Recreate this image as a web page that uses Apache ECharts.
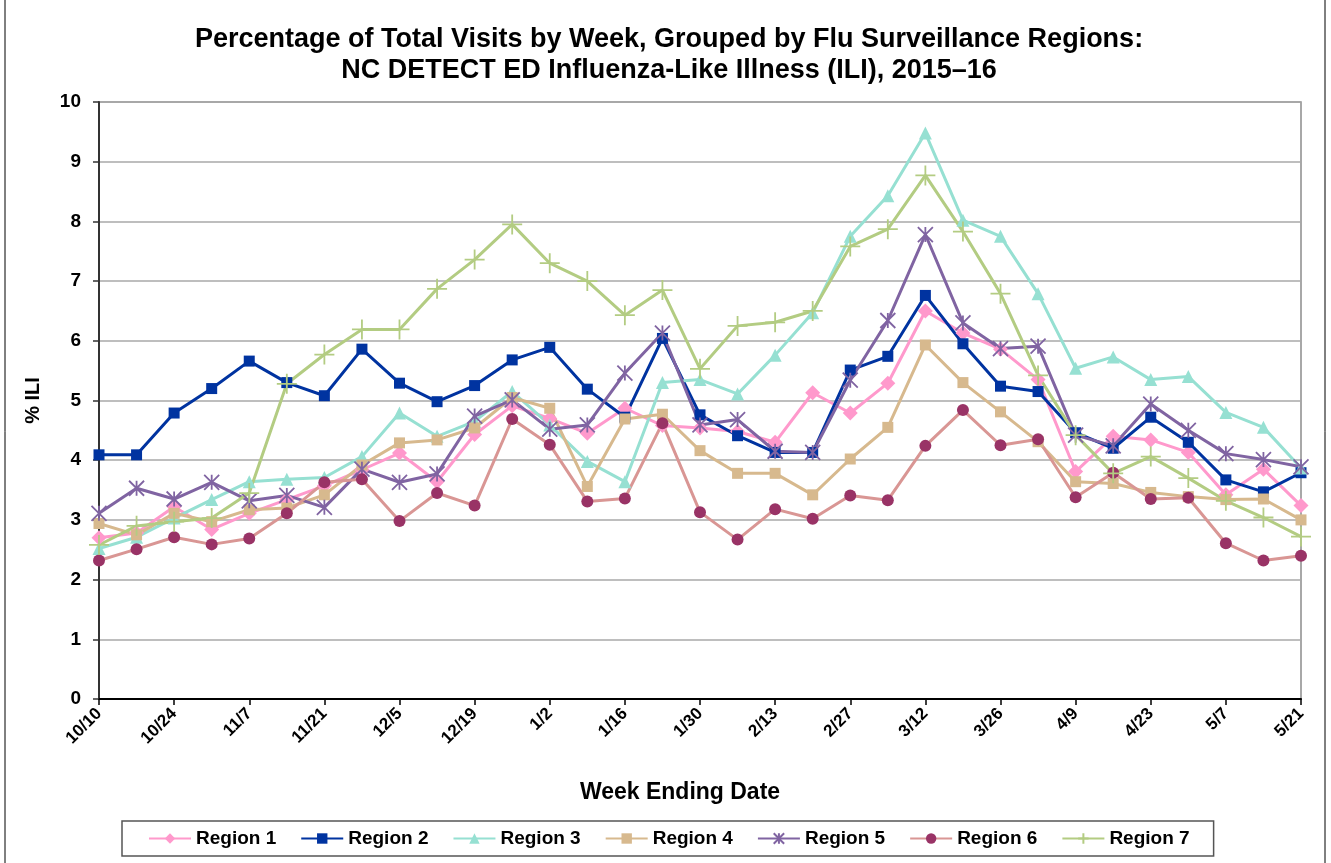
<!DOCTYPE html>
<html>
<head>
<meta charset="utf-8">
<script src="https://cdn.jsdelivr.net/npm/echarts@6/dist/echarts.min.js"></script>
<style>
  html, body { margin: 0; padding: 0; background: #fff; }
  #chart { width: 1331px; height: 863px; }
</style>
</head>
<body>
<div id="chart"></div>
<script>
// week ending dates (every week, labels shown every other week)
const weeks = ['10/10', '10/17', '10/24', '10/31', '11/7', '11/14', '11/21', '11/28', '12/5', '12/12',
  '12/19', '12/26', '1/2', '1/9', '1/16', '1/23', '1/30', '2/6', '2/13', '2/20', '2/27', '3/5',
  '3/12', '3/19', '3/26', '4/2', '4/9', '4/16', '4/23', '4/30', '5/7', '5/14', '5/21']

const region1 = [2.70, 2.78, 3.22, 2.84, 3.11, 3.34, 3.57, 3.84, 4.12, 3.64, 4.43, 4.91, 4.70, 4.45, 4.87, 4.58, 4.54,
  4.48, 4.30, 5.13, 4.79, 5.29, 6.50, 6.13, 5.86, 5.35, 3.81, 4.40, 4.34, 4.13, 3.42, 3.85, 3.24]
const region2 = [4.09, 4.09, 4.79, 5.20, 5.66, 5.30, 5.08, 5.86, 5.29, 4.98, 5.25, 5.68, 5.89, 5.19, 4.72, 6.04, 4.76,
  4.41, 4.13, 4.13, 5.51, 5.74, 6.76, 5.95, 5.24, 5.15, 4.46, 4.20, 4.72, 4.30, 3.67, 3.47, 3.79]
const region3 = [2.52, 2.71, 3.03, 3.34, 3.64, 3.68, 3.71, 4.06, 4.79, 4.40, 4.65, 5.15, 4.59, 3.98, 3.64, 5.30, 5.35,
  5.11, 5.76, 6.47, 7.75, 8.43, 9.48, 8.02, 7.75, 6.79, 5.54, 5.73, 5.35, 5.40, 4.80, 4.55, 3.87]
const region4 = [2.94, 2.75, 3.11, 2.97, 3.17, 3.20, 3.42, 3.92, 4.29, 4.34, 4.54, 5.05, 4.87, 3.56, 4.69, 4.77, 4.16,
  3.78, 3.78, 3.42, 4.02, 4.55, 5.93, 5.30, 4.81, 4.31, 3.64, 3.61, 3.46, 3.39, 3.34, 3.35, 3.00]
const region5 = [3.11, 3.53, 3.35, 3.63, 3.32, 3.41, 3.21, 3.85, 3.63, 3.77, 4.74, 5.01, 4.52, 4.59, 5.46, 6.13, 4.59,
  4.68, 4.15, 4.13, 5.34, 6.34, 7.78, 6.30, 5.87, 5.91, 4.42, 4.24, 4.94, 4.50, 4.11, 4.01, 3.89]
const region6 = [2.32, 2.51, 2.71, 2.59, 2.69, 3.11, 3.63, 3.68, 2.98, 3.45, 3.24, 4.69, 4.26, 3.31, 3.36, 4.62, 3.13,
  2.67, 3.18, 3.02, 3.41, 3.33, 4.24, 4.84, 4.25, 4.35, 3.38, 3.79, 3.35, 3.37, 2.61, 2.32, 2.40]
const region7 = [2.58, 2.90, 2.97, 3.03, 3.45, 5.28, 5.77, 6.19, 6.19, 6.87, 7.36, 7.95, 7.30, 7.00, 6.43, 6.85, 5.53,
  6.25, 6.31, 6.50, 7.58, 7.87, 8.77, 7.83, 6.79, 5.42, 4.42, 3.78, 4.06, 3.70, 3.32, 3.04, 2.72]

const yTicks = [0, 1, 2, 3, 4, 5, 6, 7, 8, 9, 10]

const font = 'Liberation Sans, Arial, sans-serif'
const asterisk = 'path://M0,0L10,10M10,0L0,10M5,0L5,10'
const plus = 'path://M5,0L5,10M0,5L10,5'

function makeSeries(name, data, lineColor, markColor, symbol, size, strokeMark) {
  return {
    name: name,
    type: 'line',
    data: data,
    symbol: symbol,
    symbolSize: size,
    showAllSymbol: true,
    lineStyle: { color: lineColor, width: 3 },
    itemStyle: strokeMark
      ? { color: markColor, borderColor: markColor, borderWidth: 1.8 }
      : { color: markColor },
    emphasis: { disabled: true },
    z: 3,
  }
}

const chart = echarts.init(document.getElementById('chart'))

const option = {
  backgroundColor: '#fff',
  animation: false,
  title: {
    text: 'Percentage of Total Visits by Week, Grouped by Flu Surveillance Regions:\nNC DETECT ED Influenza-Like Illness (ILI), 2015\u201316',
    left: 664,
    top: 19,
    textAlign: 'center',
    textStyle: { fontFamily: font, fontSize: 27, fontWeight: 'bold', color: '#000', lineHeight: 31 },
  },
  legend: {
    left: 122,
    top: 821,
    padding: [8, 24, 8, 26],
    itemGap: 24,
    itemWidth: 42,
    itemHeight: 13,
    borderColor: '#555',
    borderWidth: 1.5,
    textStyle: { fontFamily: font, fontSize: 19, fontWeight: 'bold', color: '#000' },
    data: ['Region 1', 'Region 2', 'Region 3', 'Region 4', 'Region 5', 'Region 6', 'Region 7'],
  },
  grid: {
    left: 99,
    right: 30,
    top: 102,
    bottom: 164,
    show: true,
    borderColor: '#8c8c8c',
    borderWidth: 1.5,
  },
  xAxis: {
    type: 'category',
    data: weeks,
    boundaryGap: false,
    name: 'Week Ending Date',
    nameLocation: 'middle',
    nameGap: 82,
    nameTextStyle: {
      fontFamily: font,
      fontSize: 23,
      fontWeight: 'bold',
      color: '#000',
      padding: [0, 40, 0, 0],
    },
    axisLine: { lineStyle: { color: '#000', width: 2 } },
    axisTick: { interval: 1, length: 6, lineStyle: { color: '#000', width: 1.5 } },
    axisLabel: {
      interval: 1,
      rotate: 45,
      margin: 12,
      fontFamily: font,
      fontSize: 17,
      fontWeight: 'bold',
      color: '#000',
    },
    splitLine: { show: false },
  },
  yAxis: {
    type: 'value',
    min: yTicks[0],
    max: yTicks[yTicks.length - 1],
    interval: 1,
    name: '% ILI',
    nameLocation: 'middle',
    nameGap: 56,
    nameTextStyle: { fontFamily: font, fontSize: 20, fontWeight: 'bold', color: '#000' },
    axisLine: { show: true, lineStyle: { color: '#333', width: 2 } },
    axisTick: { show: true, length: 6, lineStyle: { color: '#333', width: 1.5 } },
    axisLabel: { margin: 18, fontFamily: font, fontSize: 19, fontWeight: 'bold', color: '#000' },
    splitLine: { lineStyle: { color: '#a8a8a8', width: 1.5 } },
  },
  graphic: [
    { type: 'line', shape: { x1: 5, y1: 0, x2: 5, y2: 863 }, style: { stroke: '#000', lineWidth: 1 } },
    { type: 'line', shape: { x1: 1325, y1: 0, x2: 1325, y2: 863 }, style: { stroke: '#000', lineWidth: 1 } },
  ],
  series: [
    makeSeries('Region 1', region1, '#FF99CC', '#FF99CC', 'diamond', 15, false),
    makeSeries('Region 2', region2, '#0033A0', '#0033A0', 'rect', 11, false),
    makeSeries('Region 3', region3, '#96E0D2', '#96E0D2', 'triangle', 13, false),
    makeSeries('Region 4', region4, '#D7B98E', '#D7B98E', 'rect', 11, false),
    makeSeries('Region 5', region5, '#8064A2', '#8064A2', asterisk, 15, true),
    makeSeries('Region 6', region6, '#D99694', '#993366', 'circle', 12, false),
    makeSeries('Region 7', region7, '#B3CC82', '#B3CC82', plus, 20, true),
  ],
}

chart.setOption(option)
</script>
</body>
</html>
